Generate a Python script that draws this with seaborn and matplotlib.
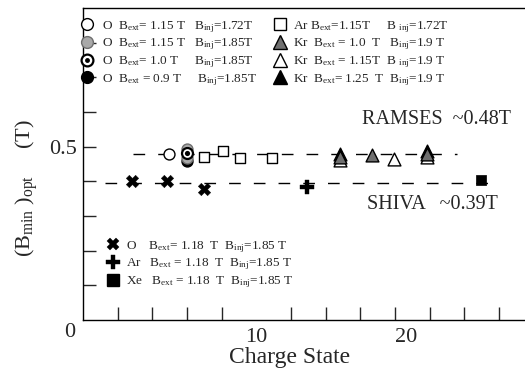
import matplotlib
matplotlib.use("Agg")
import matplotlib.pyplot as plt
from matplotlib.lines import Line2D
from matplotlib.legend_handler import HandlerTuple
import seaborn as sns

# ---- data ----
# RAMSES, oxygen (circles)
o_open_q = [4.97]
o_open_b = [0.480]
o_gray_q = [5.98, 5.98]
o_gray_b = [0.493, 0.467]
o_eye_q = [5.98]
o_eye_b = [0.482]
o_black_q = [5.98]
o_black_b = [0.458]
# RAMSES, argon (open squares)
ar_q = [6.97, 8.05, 9.05, 10.93]
ar_b = [0.470, 0.488, 0.467, 0.467]
# RAMSES, krypton (triangles)
kr_open_q = [14.85, 17.93, 19.85]
kr_open_b = [0.462, 0.464, 0.470]
kr_gray_q = [14.85, 16.70, 19.85]
kr_gray_b = [0.470, 0.477, 0.479]
kr_black_q = [14.85, 19.85]
kr_black_b = [0.479, 0.487]
# SHIVA
sh_o_q = [2.8, 4.86, 6.97]
sh_o_b = [0.400, 0.400, 0.378]
sh_ar_q = [12.9]
sh_ar_b = [0.383]
sh_xe_q = [22.98]
sh_xe_b = [0.405]
# guide lines
ramses_q = [2.9, 21.6]
ramses_b = [0.48, 0.48]
shiva_q = [1.27, 23.7]
shiva_b = [0.395, 0.395]

sns.set_theme(style="ticks")
plt.rcParams["font.family"] = ["Liberation Serif", "DejaVu Serif"]
plt.rcParams["mathtext.fontset"] = "custom"
plt.rcParams["mathtext.rm"] = "Liberation Serif"
plt.rcParams["mathtext.it"] = "Liberation Serif:italic"

W, H = 525, 369
fig = plt.figure(figsize=(W / 100, H / 100), dpi=100)
ax = fig.add_axes([83 / W, 1 - 320 / H, 442 / W, 312 / H])


def px(x, y):
    return (x / W, 1 - y / H)


dash = dict(color="black", linewidth=1.0, dashes=(8.4, 9.4), legend=False, ax=ax)
sns.lineplot(x=ramses_q, y=ramses_b, zorder=1, **dash)
sns.lineplot(x=shiva_q, y=shiva_b, zorder=1, **dash)

ms = 62
sns.scatterplot(x=o_open_q, y=o_open_b, marker="o", s=ms, color="white",
                edgecolor="black", linewidth=1.0, zorder=3, ax=ax)
sns.scatterplot(x=o_black_q, y=o_black_b, marker="o", s=ms, color="black",
                edgecolor="black", linewidth=1.0, zorder=3, ax=ax)
sns.scatterplot(x=o_gray_q, y=o_gray_b, marker="o", s=ms, color="#a9a9a9",
                edgecolor="#6e6e6e", linewidth=1.0, zorder=4, ax=ax)
sns.scatterplot(x=o_eye_q, y=o_eye_b, marker="o", s=ms, color="white",
                edgecolor="black", linewidth=1.6, zorder=5, ax=ax)
sns.scatterplot(x=o_eye_q, y=o_eye_b, marker="o", s=14, color="black",
                edgecolor="black", linewidth=0, zorder=6, ax=ax)
sns.scatterplot(x=ar_q, y=ar_b, marker="s", s=ms, color="white",
                edgecolor="black", linewidth=1.0, zorder=3, ax=ax)
sns.scatterplot(x=kr_open_q, y=kr_open_b, marker="^", s=85, color="white",
                edgecolor="black", linewidth=1.0, zorder=3, ax=ax)
sns.scatterplot(x=kr_gray_q, y=kr_gray_b, marker="^", s=85, color="#6f6f6f",
                edgecolor="black", linewidth=1.0, zorder=4, ax=ax)
sns.scatterplot(x=kr_black_q, y=kr_black_b, marker="^", s=85, color="black",
                edgecolor="black", linewidth=1.0, zorder=3, ax=ax)
sns.scatterplot(x=sh_o_q, y=sh_o_b, marker="X", s=80, color="black",
                edgecolor="black", linewidth=0.3, zorder=3, ax=ax)
sns.scatterplot(x=sh_ar_q, y=sh_ar_b, marker="P", s=90, color="black",
                edgecolor="black", linewidth=0.3, zorder=3, ax=ax)
sns.scatterplot(x=sh_xe_q, y=sh_xe_b, marker="s", s=60, color="black",
                edgecolor="black", linewidth=0.5, zorder=3, ax=ax)

ax.set_xlim(0, 25.5)
ax.set_ylim(0, 0.9)
ax.spines["right"].set_visible(False)
for s in ["left", "bottom", "top"]:
    ax.spines[s].set_linewidth(1.0)
    ax.spines[s].set_color("black")

ax.set_xticks([10, 18.65])
ax.set_xticklabels(["10", "20"])
ax.set_xticks(list(range(2, 25, 2)), minor=True)
ax.set_yticks([0.5])
ax.set_yticklabels(["0.5"])
ax.set_yticks([0.1, 0.2, 0.3, 0.4, 0.6, 0.7, 0.8], minor=True)
ax.tick_params(axis="x", which="major", length=0, pad=6, labelsize=16)
ax.tick_params(axis="y", which="major", direction="in", length=9.5, width=1,
               pad=4, labelsize=16)
ax.tick_params(which="minor", direction="in", length=9.5, width=1)
ax.set_xlabel("")
ax.set_ylabel("")

ax.text(-0.45, -0.01, "0", fontsize=16, ha="right", va="top")
fig.text(*px(290, 357), "Charge State", fontsize=17, ha="center", va="center")
fig.text(*px(27, 188), r"(B$_{\mathrm{min}}$ )$_{\mathrm{opt}}$     (T)",
         fontsize=16, rotation=90, ha="center", va="center")

ax.text(16.1, 0.578, "RAMSES  ~0.48T", fontsize=14.5, ha="left", va="center")
ax.text(16.4, 0.332, "SHIVA   ~0.39T", fontsize=14.5, ha="left", va="center")


def h(marker, face, edge="black", size=8.5, mew=1.0):
    return Line2D([], [], marker=marker, linestyle="none", markersize=size,
                  markerfacecolor=face, markeredgecolor=edge, markeredgewidth=mew)


eye = (h("o", "white", mew=1.6), h("o", "black", size=3.5, mew=0))
col1 = [h("o", "white"), h("o", "#a9a9a9", edge="#6e6e6e"), eye, h("o", "black")]
col1_lab = [r"O  B$_{\mathrm{ext}}$= 1.15 T   B$_{\mathrm{inj}}$=1.72T",
            r"O  B$_{\mathrm{ext}}$= 1.15 T   B$_{\mathrm{inj}}$=1.85T",
            r"O  B$_{\mathrm{ext}}$= 1.0 T     B$_{\mathrm{inj}}$=1.85T",
            r"O  B$_{\mathrm{ext}}$ = 0.9 T     B$_{\mathrm{inj}}$=1.85T"]
col2 = [h("s", "white"), h("^", "#6f6f6f", size=10), h("^", "white", size=10),
        h("^", "black", size=10)]
col2_lab = [r"Ar B$_{\mathrm{ext}}$=1.15T     B $_{\mathrm{inj}}$=1.72T",
            r"Kr  B$_{\mathrm{ext}}$ = 1.0  T   B$_{\mathrm{inj}}$=1.9 T",
            r"Kr  B$_{\mathrm{ext}}$ = 1.15T  B $_{\mathrm{inj}}$=1.9 T",
            r"Kr  B$_{\mathrm{ext}}$= 1.25  T  B$_{\mathrm{inj}}$=1.9 T"]
col3 = [h("X", "black", mew=0.3, size=9), h("P", "black", mew=0.3, size=9.5),
        h("s", "black", size=8)]
col3_lab = [r"O    B$_{\mathrm{ext}}$= 1.18  T  B$_{\mathrm{inj}}$=1.85 T",
            r"Ar   B$_{\mathrm{ext}}$ = 1.18  T  B$_{\mathrm{inj}}$=1.85 T",
            r"Xe   B$_{\mathrm{ext}}$ = 1.18  T  B$_{\mathrm{inj}}$=1.85 T"]

leg_kw = dict(loc="upper left", frameon=False, borderpad=0, borderaxespad=0,
              handlelength=1.0, fontsize=9.5, labelspacing=0.15,
              bbox_transform=fig.transFigure,
              handler_map={tuple: HandlerTuple(ndivide=1)})
l1 = ax.legend(col1, col1_lab, bbox_to_anchor=px(80, 19), handletextpad=0.7, **leg_kw)
ax.add_artist(l1)
l2 = ax.legend(col2, col2_lab, bbox_to_anchor=px(273, 19), handletextpad=0.5, **leg_kw)
ax.add_artist(l2)
ax.legend(col3, col3_lab, bbox_to_anchor=px(106, 239), handletextpad=0.55, **leg_kw)

fig.savefig("out.png", dpi=100)
